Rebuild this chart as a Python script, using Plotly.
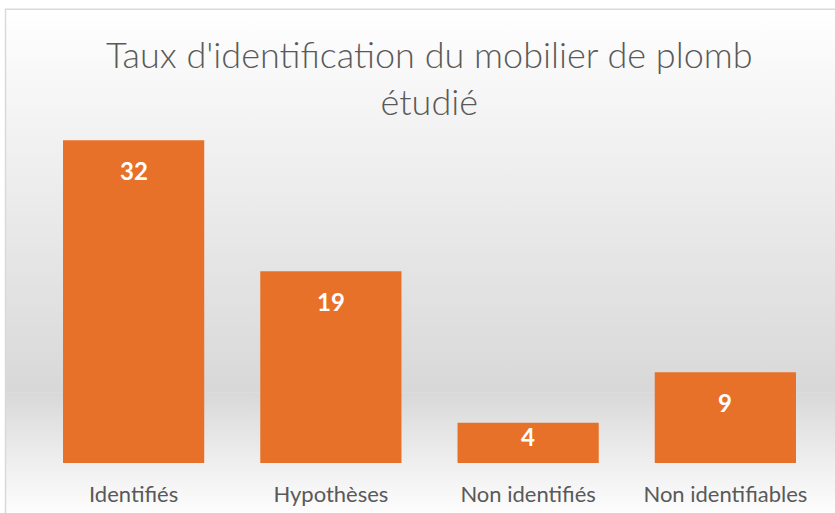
import base64
import plotly.graph_objects as go

categories = ["Identifiés", "Hypothèses", "Non identifiés", "Non identifiables"]
values = [32, 19, 4, 9]
title_text = "Taux d'identification du mobilier de plomb<br>étudié"

W, H = 835, 513
L, R, T, B = 35, 11, 109.5, 50
YMAX = 35
plot_w = W - L - R
plot_h = H - T - B
px_per_unit = plot_h / YMAX


def py_to_paper(py):
    return (H - B - py) / plot_h


svg = f"""<svg xmlns='http://www.w3.org/2000/svg' width='{W}' height='{H}' viewBox='0 0 {W} {H}' preserveAspectRatio='none'>
<defs>
<linearGradient id='wall' x1='0' y1='8' x2='0' y2='392' gradientUnits='userSpaceOnUse'>
<stop offset='0' stop-color='#FFFFFF'/>
<stop offset='0.35' stop-color='#F1F1F1'/>
<stop offset='1' stop-color='#D8D8D8'/>
</linearGradient>
<linearGradient id='floor' x1='0' y1='392' x2='0' y2='513' gradientUnits='userSpaceOnUse'>
<stop offset='0' stop-color='#D8D8D8'/>
<stop offset='0.25' stop-color='#E2E2E2'/>
<stop offset='0.65' stop-color='#F1F1F1'/>
<stop offset='1' stop-color='#FDFDFD'/>
</linearGradient>
</defs>
<rect x='0' y='0' width='{W}' height='{H}' fill='#FFFFFF'/>
<rect x='5' y='8' width='{W}' height='384' fill='url(#wall)'/>
<rect x='5' y='392' width='{W}' height='{H}' fill='url(#floor)'/>
<path d='M5.5 {H} L5.5 8.5 L{W} 8.5' stroke='#D9D9D9' stroke-width='1.5' fill='none'/>
</svg>"""
src = "data:image/svg+xml;base64," + base64.b64encode(svg.encode()).decode()

fig = go.Figure()
fig.add_trace(go.Bar(
    x=categories, y=values,
    marker=dict(color="#E8712A", line=dict(width=0)),
    width=0.716,
    hoverinfo="x+y",
))

annotations = []
for c, v in zip(categories, values):
    bar_px = v * px_per_unit
    shift = -min(30, bar_px * 0.35)
    annotations.append(dict(
        x=c, y=v, xref="x", yref="y", text=f"<b>{v}</b>", showarrow=False,
        yanchor="middle", yshift=shift,
        font=dict(family="Lato, 'Open Sans', sans-serif", size=24, color="#FFFFFF"),
    ))

annotations.append(dict(
    text=title_text, x=0.5, xref="paper", xanchor="center",
    y=py_to_paper(77), yref="paper", yanchor="middle", showarrow=False,
    align="center",
    font=dict(family="Lato, 'Open Sans', sans-serif", size=36, color="#595959", weight=300),
))

fig.update_layout(
    width=W, height=H,
    margin=dict(l=L, r=R, t=T, b=B, pad=0, autoexpand=False),
    paper_bgcolor="#FFFFFF",
    plot_bgcolor="rgba(0,0,0,0)",
    showlegend=False,
    xaxis=dict(
        showgrid=False, zeroline=False, showline=False, automargin=False,
        ticks="outside", ticklen=12, tickcolor="rgba(0,0,0,0)",
        tickfont=dict(family="Lato, 'Open Sans', sans-serif", size=22, color="#595959"),
    ),
    yaxis=dict(range=[0, YMAX], visible=False, showgrid=False, zeroline=False, automargin=False),
    annotations=annotations,
    images=[dict(
        source=src, xref="paper", yref="paper",
        x=-L / plot_w, y=(H - B) / plot_h, sizex=W / plot_w, sizey=H / plot_h,
        xanchor="left", yanchor="top", sizing="stretch", layer="below",
    )],
)

fig.write_html(
    "out.html",
    config={"displayModeBar": False},
    post_script="document.body.style.margin='0';document.body.style.overflow='hidden';",
)
